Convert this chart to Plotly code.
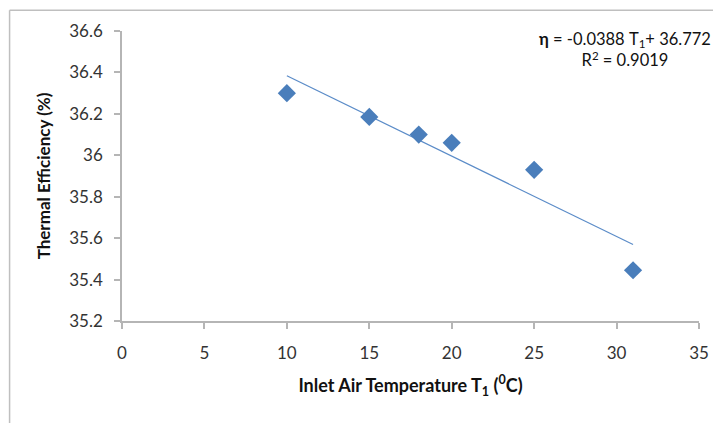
import plotly.graph_objects as go

# Data
inlet_temp = [10, 15, 18, 20, 25, 31]
efficiency = [36.30, 36.185, 36.10, 36.06, 35.93, 35.445]

# Linear trendline coefficients (as shown on the chart)
trend_slope = -0.0388
trend_intercept = 36.772
r_squared = 0.9019

x_ticks = [0, 5, 10, 15, 20, 25, 30, 35]
y_ticks = [35.2, 35.4, 35.6, 35.8, 36.0, 36.2, 36.4, 36.6]
y_tick_text = ["35.2", "35.4", "35.6", "35.8", "36", "36.2", "36.4", "36.6"]

trend_x = [min(inlet_temp), max(inlet_temp)]
trend_y = [trend_slope * t + trend_intercept for t in trend_x]

FONT = "Lato, Calibri, 'Open Sans', sans-serif"
AX = "#b5b5b5"

# page body has an 8px margin; work in window pixels and convert
OFF = 8
W, H = 721 - OFF, 423 - OFF
PL, PR, PT, PB = 122, 702, 28, 321  # plot area in window pixels
ml, mr, mt, mb = PL - OFF, W - (PR - OFF), PT - OFF, H - (PB - OFF)
pw, ph = PR - PL, PB - PT


def px(x):
    return (x - PL) / pw


def py(y):
    return (PB - y) / ph


fig = go.Figure()
fig.add_trace(go.Scatter(
    x=trend_x, y=trend_y, mode="lines",
    line=dict(color="#5b8cc8", width=1.2), hoverinfo="skip", showlegend=False))
fig.add_trace(go.Scatter(
    x=inlet_temp, y=efficiency, mode="markers",
    marker=dict(symbol="diamond", size=14, color="#4a7ebb",
                line=dict(width=0)),
    showlegend=False))

fig.update_layout(
    width=W, height=H,
    margin=dict(l=ml, r=mr, t=mt, b=mb),
    paper_bgcolor="white", plot_bgcolor="white",
    font=dict(family=FONT, size=17, color="#333333"),
    xaxis=dict(range=[0, 35], tickvals=x_ticks, showgrid=False, zeroline=False,
               showline=True, linecolor=AX, linewidth=1.5,
               ticks="outside", ticklen=6, tickcolor=AX, tickwidth=1.5,
               ticklabelstandoff=10,
               tickfont=dict(size=17, color="#333333"),
               title=dict(text="<b>Inlet Air Temperature T<sub>1</sub> (<sup>0</sup>C)</b>",
                          font=dict(size=18, color="#111111"), standoff=17)),
    yaxis=dict(range=[35.2, 36.6], tickvals=y_ticks, ticktext=y_tick_text,
               showgrid=False, zeroline=False,
               showline=True, linecolor=AX, linewidth=1.5,
               ticks="outside", ticklen=6, tickcolor=AX, tickwidth=1.5,
               ticklabelstandoff=8,
               tickfont=dict(size=17, color="#333333"),
               title=dict(text="<b>Thermal Efficiency (%)</b>",
                          font=dict(size=17, color="#111111"), standoff=14)),
)

eq_text = ("<b>η</b> = %.4f T<sub>1</sub>+ %.3f<br>R<sup>2</sup> = %.4f"
           % (trend_slope, trend_intercept, r_squared))
fig.add_annotation(x=px(628), y=py(47), xref="paper", yref="paper", text=eq_text,
                   showarrow=False, align="center",
                   xanchor="center", yanchor="middle",
                   font=dict(family=FONT, size=16.5, color="#111111"))

# chart outer border (top and left visible)
fig.add_shape(type="line", xref="paper", yref="paper",
              x0=px(9), x1=px(740), y0=py(7), y1=py(7),
              line=dict(color="#bfbfbf", width=1.5))
fig.add_shape(type="line", xref="paper", yref="paper",
              x0=px(9), x1=px(9), y0=py(7), y1=py(440),
              line=dict(color="#bfbfbf", width=1.5))

fig.write_html("out.html")
